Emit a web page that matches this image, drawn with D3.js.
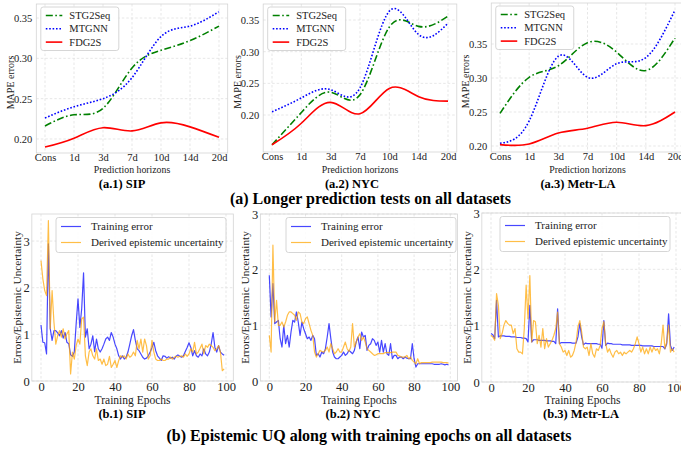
<!DOCTYPE html>
<html>
<head>
<meta charset="utf-8">
<script src="https://cdn.jsdelivr.net/npm/d3@7"></script>
<style>
  body { margin: 0; background: #fff; }
  svg { display: block; font-family: "Liberation Serif", "Times New Roman", serif; }
  .grid line { stroke: #dcdcdc; stroke-width: 0.7; stroke-dasharray: 2.5,2; }
  .axis path { display: none; }
  .axis line { display: none; }
</style>
</head>
<body>
<div id="chart"></div>
<script>
// ---- data: (a) longer prediction tests, MAPE per horizon ----
const horizons = ["Cons", "1d", "3d", "7d", "10d", "14d", "20d"];
const mapeTicks = [0.20, 0.25, 0.30, 0.35];

const sipSTG = [0.216, 0.230, 0.238, 0.288, 0.310, 0.322, 0.340];
const sipMTG = [0.226, 0.240, 0.250, 0.276, 0.327, 0.340, 0.358];
const sipFDG = [0.190, 0.201, 0.214, 0.210, 0.220, 0.215, 0.202];

const nycSTG = [0.153, 0.204, 0.236, 0.232, 0.339, 0.340, 0.356];
const nycMTG = [0.205, 0.227, 0.240, 0.243, 0.364, 0.327, 0.345];
const nycFDG = [0.153, 0.187, 0.220, 0.202, 0.242, 0.229, 0.222];

const laSTG = [0.248, 0.301, 0.318, 0.352, 0.338, 0.311, 0.359];
const laMTG = [0.204, 0.237, 0.332, 0.301, 0.321, 0.330, 0.400];
const laFDG = [0.202, 0.203, 0.219, 0.226, 0.235, 0.230, 0.250];

const modelNames = ["STG2Seq", "MTGNN", "FDG2S"];

// ---- data: (b) epistemic UQ along training epochs (epochs 0..99) ----
const epochTicks = [0, 20, 40, 60, 80, 100];
const uqTicks = [0, 1, 2, 3];
const uqNames = ["Training error", "Derived epistemic uncertainty"];

const sipErr = [1.20,0.83,0.82,0.58,2.94,1.12,0.87,1.08,1.08,1.03,
  0.97,1.08,0.92,1.04,0.83,0.80,0.56,0.53,0.62,1.22,
  1.76,1.15,1.55,2.32,0.94,1.12,0.69,0.79,0.97,0.63,
  0.90,0.69,0.62,0.69,0.79,0.90,0.94,0.87,1.04,0.94,
  0.79,0.69,0.54,0.47,0.54,0.47,0.51,0.62,0.79,0.97,
  1.10,0.87,0.69,0.65,0.58,0.51,0.47,0.49,0.54,0.62,
  0.72,0.83,0.65,0.54,0.49,0.44,0.54,0.53,0.49,0.52,
  0.49,0.51,0.47,0.53,0.56,0.53,0.51,0.54,0.63,0.72,
  0.82,0.72,0.54,0.65,0.54,0.51,0.58,0.54,0.69,0.58,
  0.54,0.62,0.79,1.04,0.72,0.62,0.76,0.62,0.58,0.55];
const sipUnc = [2.58,2.19,1.94,1.83,3.44,1.12,1.94,1.26,0.79,0.97,
  1.08,0.94,1.12,0.90,1.01,1.08,0.15,0.62,0.47,0.76,
  0.90,0.79,1.33,1.37,0.54,0.33,0.62,0.69,0.54,0.47,
  0.69,0.44,0.47,0.36,0.47,0.33,0.36,0.53,0.29,0.36,
  0.44,0.29,0.44,0.54,0.51,0.54,0.47,0.58,0.51,0.54,
  0.62,0.54,0.87,0.69,0.90,0.62,0.90,0.76,0.47,0.54,
  0.87,0.62,0.47,0.44,0.44,0.47,0.44,0.44,0.47,0.47,
  0.51,0.47,0.51,0.53,0.51,0.53,0.54,0.51,0.58,0.53,
  0.58,0.69,0.62,0.83,0.58,0.62,0.70,0.79,0.58,0.76,
  0.72,0.79,0.76,0.72,0.65,0.69,0.76,0.62,0.22,0.26];

const nycErr = [1.90,1.15,1.75,1.03,1.06,1.09,0.76,0.61,1.00,0.67,
  0.82,0.61,0.88,1.09,1.06,1.24,1.06,0.82,1.06,0.94,
  0.85,0.76,0.79,0.73,0.82,0.76,0.46,0.49,0.43,0.52,
  0.49,0.58,0.79,1.03,0.76,0.52,0.43,0.40,0.40,0.43,
  0.46,0.52,0.46,0.49,0.55,0.52,0.49,0.55,0.70,0.79,
  0.58,0.88,0.79,0.82,0.55,0.64,0.67,0.76,0.73,0.64,
  0.70,0.52,0.73,0.52,0.67,0.49,0.46,0.67,0.40,0.46,
  0.46,0.40,0.43,0.43,0.40,0.43,0.41,0.40,0.40,0.67,
  0.40,0.25,0.31,0.31,0.31,0.31,0.31,0.31,0.31,0.31,
  0.31,0.30,0.30,0.30,0.30,0.31,0.30,0.29,0.30,0.29];
const nycUnc = [0.82,0.52,2.44,1.06,1.45,1.00,1.00,1.06,0.97,1.06,
  1.18,1.24,1.24,1.21,1.18,1.09,1.24,1.21,1.06,1.03,
  1.12,1.15,1.03,0.91,0.82,0.52,0.43,0.49,0.55,0.53,
  0.52,0.55,0.61,0.52,0.67,0.58,0.49,0.52,0.58,0.52,
  0.52,0.61,0.70,0.58,0.53,0.61,1.03,0.61,0.70,0.79,
  0.85,0.73,0.79,0.70,0.58,0.55,0.52,0.49,0.46,0.47,
  0.49,0.49,0.49,0.49,0.51,0.51,0.51,0.51,0.52,0.52,
  0.52,0.46,0.45,0.43,0.43,0.43,0.46,0.40,0.43,0.37,
  0.34,0.31,0.40,0.31,0.33,0.33,0.33,0.33,0.33,0.33,
  0.34,0.34,0.34,0.34,0.34,0.34,0.33,0.33,0.33,0.32];

const laErr = [0.86,0.84,0.77,1.45,0.80,0.82,0.82,0.82,0.81,0.81,
  0.81,0.80,0.80,0.80,0.79,0.79,0.79,0.78,0.78,0.77,
  0.71,1.36,0.71,0.75,0.75,0.75,0.74,0.74,0.74,0.74,
  0.73,0.73,0.73,0.72,0.72,0.68,1.30,0.68,0.70,0.70,
  0.70,0.70,0.70,0.70,0.69,0.69,0.69,0.80,1.04,0.80,
  0.66,0.69,0.68,0.68,0.68,0.68,0.68,0.68,0.67,0.67,
  0.60,1.09,0.65,0.69,0.68,0.68,0.67,0.67,0.67,0.67,
  0.67,0.66,0.66,0.66,0.66,0.66,0.65,0.65,0.65,0.65,
  0.65,0.65,0.64,0.64,0.64,0.64,0.64,0.64,0.63,0.63,
  0.63,0.63,0.63,0.63,0.59,0.68,1.21,0.65,0.56,0.62];
const laUnc = [0.83,0.80,0.74,1.57,1.36,0.77,0.86,1.01,1.09,1.04,
  1.01,1.01,0.86,0.95,0.59,0.53,0.53,0.50,0.95,1.72,
  1.12,1.89,0.71,1.09,1.07,0.68,0.83,0.62,0.95,0.59,
  0.77,0.62,0.68,0.74,0.83,0.95,1.24,0.68,0.62,0.53,
  0.56,0.47,0.56,0.44,0.47,0.56,0.71,0.98,1.09,0.89,
  0.62,0.59,0.62,0.47,0.68,0.50,0.44,0.59,0.56,0.65,
  0.95,1.07,0.68,0.53,0.59,0.50,0.44,0.53,0.56,0.50,
  0.53,0.47,0.53,0.50,0.53,0.56,0.53,0.59,0.68,0.80,
  0.68,0.53,0.62,0.50,0.59,0.50,0.62,0.53,0.62,0.56,
  0.59,0.50,0.68,1.01,0.59,0.71,1.01,0.53,0.59,0.53];

// ---- layout ----
const W = 681, H = 449;
const FONT = "Liberation Serif";
const svg = d3.select("#chart").append("svg").attr("width", W).attr("height", H)
  .attr("font-family", FONT);

const mapeStyles = [
  { color: "#008000", dash: "7,2.5,1.6,2.5" },
  { color: "#0000ff", dash: "1.6,1.8" },
  { color: "#ff0000", dash: null }
];
const uqColors = ["#0000ff", "#ffa500"];

const panelsA = [
  { cap: "(a.1) SIP", series: [sipSTG, sipMTG, sipFDG], x0: 36.3, x1: 227.7, y0: 4, y1: 153, dom: [0.1826, 0.3674], capX: 122 },
  { cap: "(a.2) NYC", series: [nycSTG, nycMTG, nycFDG], x0: 263.2, x1: 456.8, y0: 4, y1: 152, dom: [0.1416, 0.3753], capX: 352 },
  { cap: "(a.3) Metr-LA", series: [laSTG, laMTG, laFDG], x0: 491.25, x1: 683.75, y0: 3, y1: 152, dom: [0.1912, 0.4103], capX: 578 }
];
const panelsB = [
  { cap: "(b.1) SIP", series: [sipErr, sipUnc], zero: 41, per: 1.85, y0: 214, y1: 381, dom: [0, 3.58], capX: 122, legX: 56 },
  { cap: "(b.2) NYC", series: [nycErr, nycUnc], zero: 269.3, per: 1.81, y0: 214, y1: 381, dom: [0, 3], capX: 353, legX: 286 },
  { cap: "(b.3) Metr-LA", series: [laErr, laUnc], zero: 491, per: 1.85, y0: 213, y1: 382, dom: [0, 3], capX: 581, legX: 500 }
];

let clipId = 0;
function frame(g, x0, x1, y0, y1) {
  g.append("rect").attr("x", x0).attr("y", y0).attr("width", x1 - x0).attr("height", y1 - y0)
    .attr("fill", "none").attr("stroke", "#d4d4d4").attr("stroke-width", 0.8);
  const id = "clip" + (clipId++);
  svg.append("clipPath").attr("id", id).append("rect")
    .attr("x", x0).attr("y", y0).attr("width", x1 - x0).attr("height", y1 - y0);
  return id;
}

function grid(g, x, y, xt, yt, x0, x1, y0, y1) {
  const gg = g.append("g").attr("class", "grid");
  gg.selectAll(".gx").data(xt).join("line")
    .attr("x1", d => x(d)).attr("x2", d => x(d)).attr("y1", y0).attr("y2", y1);
  gg.selectAll(".gy").data(yt).join("line")
    .attr("x1", x0).attr("x2", x1).attr("y1", d => y(d)).attr("y2", d => y(d));
}

function styleTicks(sel, size) {
  sel.attr("font-family", FONT);
  sel.selectAll("text").attr("font-size", size).attr("font-family", FONT).attr("fill", "#222");
}

// (a) row
panelsA.forEach(p => {
  const g = svg.append("g");
  const x = d3.scaleLinear().domain([-0.3, 6.3]).range([p.x0, p.x1]);
  const y = d3.scaleLinear().domain(p.dom).range([p.y1, p.y0]);
  const idx = d3.range(horizons.length);
  grid(g, x, y, idx, mapeTicks, p.x0, p.x1, p.y0, p.y1);
  const cid = frame(g, p.x0, p.x1, p.y0, p.y1);

  g.append("g").attr("class", "axis").attr("transform", `translate(0,${p.y1})`)
    .call(d3.axisBottom(x).tickValues(idx).tickFormat(i => horizons[i]).tickSize(0).tickPadding(1))
    .call(s => styleTicks(s, 10.5));
  g.append("g").attr("class", "axis").attr("transform", `translate(${p.x0},0)`)
    .call(d3.axisLeft(y).tickValues(mapeTicks).tickFormat(d3.format(".2f")).tickSize(0).tickPadding(4))
    .call(s => styleTicks(s, 10.5));

  const line = d3.line().x((d, i) => x(i)).y(d => y(d)).curve(d3.curveNatural);
  const lg = g.append("g").attr("clip-path", `url(#${cid})`);
  p.series.forEach((s, k) => {
    lg.append("path").datum(s).attr("d", line).attr("fill", "none")
      .attr("stroke", mapeStyles[k].color).attr("stroke-width", 1.6)
      .attr("stroke-dasharray", mapeStyles[k].dash);
  });

  // legend
  const bx = p.x0 + 4.5, by = p.y0 + 3;
  g.append("rect").attr("x", bx).attr("y", by).attr("width", 78).attr("height", 43.5)
    .attr("rx", 2.5).attr("fill", "#fff").attr("fill-opacity", 0.85).attr("stroke", "#cccccc").attr("stroke-width", 0.8);
  modelNames.forEach((n, k) => {
    const ly = by + 8.5 + k * 13.3;
    g.append("line").attr("x1", bx + 5).attr("x2", bx + 21.5).attr("y1", ly).attr("y2", ly)
      .attr("stroke", mapeStyles[k].color).attr("stroke-width", 1.6).attr("stroke-dasharray", mapeStyles[k].dash);
    g.append("text").attr("x", bx + 28.5).attr("y", ly + 3.6).attr("font-size", 10.5).attr("fill", "#222").text(n);
  });

  g.append("text").attr("transform", `translate(${p.x0 - 26},${(p.y0 + p.y1) / 2 + 4}) rotate(-90)`)
    .attr("text-anchor", "middle").attr("dominant-baseline", "central").attr("font-size", 10).attr("fill", "#222")
    .text("MAPE errors");
  g.append("text").attr("x", (p.x0 + p.x1) / 2).attr("y", 172.5).attr("text-anchor", "middle")
    .attr("font-size", 9.8).attr("fill", "#222").text("Prediction horizons");
  g.append("text").attr("x", p.capX).attr("y", 187.5).attr("text-anchor", "middle")
    .attr("font-size", 12.5).attr("font-weight", "bold").text(p.cap);
});

// (b) row
panelsB.forEach(p => {
  const g = svg.append("g");
  const x0 = p.zero - 4.95 * p.per, x1 = p.zero + 103.95 * p.per;
  const x = d3.scaleLinear().domain([-4.95, 103.95]).range([x0, x1]);
  const y = d3.scaleLinear().domain(p.dom).range([p.y1, p.y0]);
  grid(g, x, y, epochTicks, uqTicks, x0, x1, p.y0, p.y1);
  const cid = frame(g, x0, x1, p.y0, p.y1);

  g.append("g").attr("class", "axis").attr("transform", `translate(0,${p.y1})`)
    .call(d3.axisBottom(x).tickValues(epochTicks).tickFormat(d3.format("d")).tickSize(0).tickPadding(1))
    .call(s => styleTicks(s, 12.5));
  g.append("g").attr("class", "axis").attr("transform", `translate(${x0},0)`)
    .call(d3.axisLeft(y).tickValues(uqTicks).tickFormat(d3.format("d")).tickSize(0).tickPadding(2))
    .call(s => styleTicks(s, 12.5));

  const line = d3.line().x((d, i) => x(i)).y(d => y(d));
  const lg = g.append("g").attr("clip-path", `url(#${cid})`);
  p.series.forEach((s, k) => {
    lg.append("path").datum(s).attr("d", line).attr("fill", "none")
      .attr("stroke", uqColors[k]).attr("stroke-opacity", 0.72).attr("stroke-width", 1.2)
      .attr("stroke-linejoin", "round");
  });

  const bx = p.legX, by = p.y0 + 3.5;
  g.append("rect").attr("x", bx).attr("y", by).attr("width", 170).attr("height", 35)
    .attr("rx", 2.5).attr("fill", "#fff").attr("fill-opacity", 0.85).attr("stroke", "#cccccc").attr("stroke-width", 0.8);
  uqNames.forEach((n, k) => {
    const ly = by + 9 + k * 16;
    g.append("line").attr("x1", bx + 5).attr("x2", bx + 25).attr("y1", ly).attr("y2", ly)
      .attr("stroke", uqColors[k]).attr("stroke-opacity", 0.72).attr("stroke-width", 1.2);
    g.append("text").attr("x", bx + 35).attr("y", ly + 3.8).attr("font-size", 11).attr("fill", "#222").text(n);
  });

  g.append("text").attr("transform", `translate(${x0 - 15},${(p.y0 + p.y1) / 2}) rotate(-90)`)
    .attr("text-anchor", "middle").attr("dominant-baseline", "central").attr("font-size", 11.3).attr("fill", "#222")
    .text("Errors/Epistemic Uncertainty");
  g.append("text").attr("x", (x0 + x1) / 2).attr("y", 404).attr("text-anchor", "middle")
    .attr("font-size", 11.5).attr("fill", "#222").text("Training Epochs");
  g.append("text").attr("x", p.capX).attr("y", 417.5).attr("text-anchor", "middle")
    .attr("font-size", 12.5).attr("font-weight", "bold").text(p.cap);
});

svg.append("text").attr("x", 370.5).attr("y", 204).attr("text-anchor", "middle")
  .attr("font-size", 16).attr("font-weight", "bold").text("(a) Longer prediction tests on all datasets");
svg.append("text").attr("x", 369).attr("y", 441).attr("text-anchor", "middle")
  .attr("font-size", 16).attr("font-weight", "bold").text("(b) Epistemic UQ along with training epochs on all datasets");
</script>
</body>
</html>
